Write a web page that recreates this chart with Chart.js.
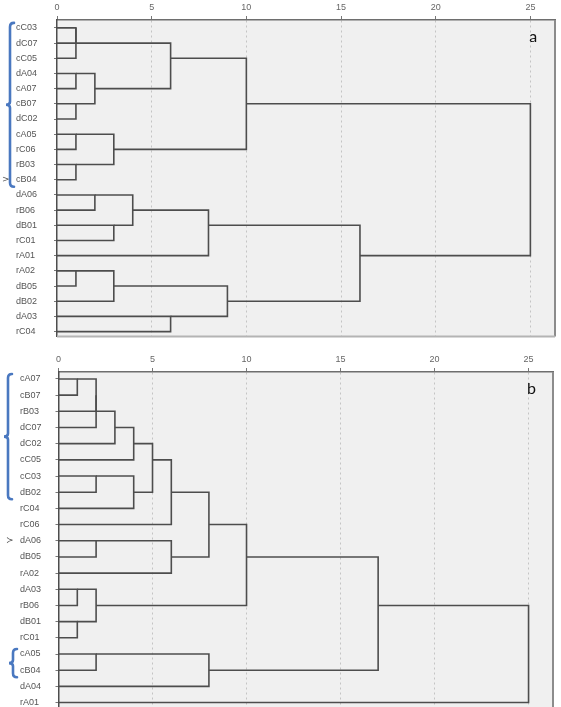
<!DOCTYPE html>
<html>
<head>
<meta charset="utf-8">
<script src="https://cdn.jsdelivr.net/npm/chart.js@4.4.0/dist/chart.umd.min.js"></script>
<style>
  html, body { margin: 0; padding: 0; background: #fff; width: 561px; height: 707px; overflow: hidden; }
  canvas { position: absolute; left: 0; }
  #chart-a { top: 0; }
  #chart-b { top: 352px; }
</style>
</head>
<body>
<canvas id="chart-a" width="561" height="345"></canvas>
<canvas id="chart-b" width="561" height="368"></canvas>
<script>
// rescaled distance ticks (top axis)
const xTicks = [0, 5, 10, 15, 20, 25];

// dendrogram a: leaf order, then merges (string = leaf, number = earlier merge)
const leavesA = ["cC03", "dC07", "cC05", "dA04", "cA07", "cB07", "dC02", "cA05", "rC06", "rB03", "cB04",
                 "dA06", "rB06", "dB01", "rC01", "rA01", "rA02", "dB05", "dB02", "dA03", "rC04"];
const leftA  = ["cC03", 0, "dA04", "cB07", 2, 1, "cA05", "rB03", 6, 5, "dA06", "dB01", 10, 12, "rA02", 14, "dA03", 15, 13, 9];
const rightA = ["dC07", "cC05", "cA07", "dC02", 3, 4, "rC06", "cB04", 7, 8, "rB06", "rC01", 11, "rA01", "dB05", "dB02", "rC04", 16, 17, 18];
const distA  = [1, 1, 1, 1, 2, 6, 1, 1, 3, 10, 2, 3, 4, 8, 1, 3, 6, 9, 16, 25];

// dendrogram b
const leavesB = ["cA07", "cB07", "rB03", "dC07", "dC02", "cC05", "cC03", "dB02", "rC04", "rC06", "dA06",
                 "dB05", "rA02", "dA03", "rB06", "dB01", "rC01", "cA05", "cB04", "dA04", "rA01"];
const leftB  = ["cA07", 0, 1, 2, 3, "cC03", 5, 4, 7, "dA06", 9, 8, "dA03", "dB01", 12, 11, "cA05", 16, 15, 18];
const rightB = ["cB07", "rB03", "dC07", "dC02", "cC05", "dB02", "rC04", 6, "rC06", "dB05", "rA02", 10, "rB06", "rC01", 13, 14, "cB04", "dA04", 17, "rA01"];
const distB  = [1, 2, 2, 3, 4, 2, 4, 5, 6, 2, 6, 8, 1, 1, 2, 10, 2, 8, 17, 25];

// blue brackets / marks beside the leaf labels
const bracketsA = [["cC03", "cB04"]];
const bracketsB = [["cA07", "dB02"], ["cA05", "cB04"]];

// turn merge list into polyline datasets (SPSS style: node sits on floor of mid row)
function buildDatasets(leaves, lefts, rights, dists) {
    const nodes = [];
    const pos = ref => typeof ref === "number" ? nodes[ref] : { row: leaves.indexOf(ref), dist: 0 };
    return lefts.map((l, i) => {
        const a = pos(l);
        const b = pos(rights[i]);
        const d = dists[i];
        nodes.push({ row: Math.floor((a.row + b.row) / 2), dist: d });
        return {
            data: [
                { x: a.dist, y: a.row },
                { x: d, y: a.row },
                { x: d, y: b.row },
                { x: b.dist, y: b.row }
            ],
            showLine: true,
            borderColor: "#4d4d4d",
            borderWidth: 1.6,
            pointRadius: 0,
            fill: false,
            tension: 0,
            borderJoinStyle: "miter"
        };
    });
}

const panelPlugin = {
    id: "panel",
    beforeDraw(chart) {
        const { ctx, chartArea: ca } = chart;
        ctx.save();
        ctx.fillStyle = "#f0f0f0";
        ctx.fillRect(ca.left, ca.top, ca.right - ca.left, ca.bottom - ca.top);
        ctx.restore();
    },
    afterDraw(chart, args, opts) {
        const { ctx, chartArea: ca, scales } = chart;
        ctx.save();
        // right and bottom frame
        ctx.strokeStyle = "#8c8c8c";
        ctx.lineWidth = 2;
        ctx.beginPath();
        ctx.moveTo(ca.right, ca.top);
        ctx.lineTo(ca.right, ca.bottom);
        ctx.stroke();
        ctx.strokeStyle = "#b4b4b4";
        ctx.beginPath();
        ctx.moveTo(ca.left, ca.bottom);
        ctx.lineTo(ca.right, ca.bottom);
        ctx.stroke();

        // panel letter
        ctx.fillStyle = "#111";
        ctx.font = "16px Lato, 'Open Sans', sans-serif";
        ctx.textAlign = "center";
        ctx.textBaseline = "middle";
        ctx.fillText(opts.letter, scales.x.getPixelForValue(25.15), ca.top + 17);

        // brackets
        ctx.strokeStyle = "#4a78c0";
        ctx.lineWidth = 2.6;
        ctx.lineCap = "round";
        opts.brackets.forEach((br, i) => {
            const x = opts.bracketX[i];
            const yTop = scales.y.getPixelForValue(opts.leaves.indexOf(br[0])) - 5;
            const yBot = scales.y.getPixelForValue(opts.leaves.indexOf(br[1])) + 7;
            const yMid = (yTop + yBot) / 2;
            ctx.beginPath();
            ctx.moveTo(x + 4, yTop);
            ctx.quadraticCurveTo(x, yTop, x, yTop + 4);
            ctx.lineTo(x, yMid - 3);
            ctx.quadraticCurveTo(x, yMid, x - 4, yMid);
            ctx.quadraticCurveTo(x, yMid, x, yMid + 3);
            ctx.lineTo(x, yBot - 4);
            ctx.quadraticCurveTo(x, yBot, x + 4, yBot);
            ctx.stroke();
        });

        // small arrow mark
        ctx.fillStyle = "#555";
        ctx.font = "9px 'DejaVu Sans'";
        ctx.textAlign = "left";
        ctx.fillText(opts.mark, opts.markX, scales.y.getPixelForValue(opts.markRow));
        ctx.restore();
    }
};

function makeDendrogram(id, leaves, lefts, rights, dists, cfg) {
    return new Chart(document.getElementById(id), {
        type: "scatter",
        data: { datasets: buildDatasets(leaves, lefts, rights, dists) },
        plugins: [panelPlugin],
        options: {
            responsive: false,
            animation: false,
            layout: { padding: cfg.padding },
            plugins: {
                legend: { display: false },
                tooltip: { enabled: false },
                panel: {
                    letter: cfg.letter,
                    leaves: leaves,
                    brackets: cfg.brackets,
                    bracketX: cfg.bracketX,
                    mark: cfg.mark,
                    markX: cfg.markX,
                    markRow: cfg.markRow
                }
            },
            scales: {
                x: {
                    type: "linear",
                    position: "top",
                    min: 0,
                    max: 26.3,
                    afterBuildTicks: axis => { axis.ticks = xTicks.map(v => ({ value: v })); },
                    afterFit: axis => { axis.height = 20; },
                    ticks: {
                        color: "#666",
                        padding: 3,
                        maxRotation: 0,
                        font: { family: "'Liberation Sans', Arial", size: 9 }
                    },
                    grid: {
                        color: ctx => (ctx.tick && ctx.tick.value === 0) ? "rgba(0,0,0,0)" : "#c4c4c4",
                        lineWidth: 1,
                        tickLength: 4,
                        tickColor: "#777"
                    },
                    border: { display: true, color: "#6e6e6e", width: 1.5, dash: [2, 3] }
                },
                y: {
                    type: "linear",
                    reverse: true,
                    min: cfg.yMin,
                    max: cfg.yMax,
                    afterBuildTicks: axis => { axis.ticks = leaves.map((_, i) => ({ value: i })); },
                    afterFit: axis => { axis.width = cfg.axisWidth; },
                    ticks: {
                        autoSkip: false,
                        crossAlign: "far",
                        color: "#555",
                        font: { family: "'Liberation Sans', Arial", size: 9 },
                        callback: v => leaves[v]
                    },
                    grid: { drawOnChartArea: false, drawTicks: true, tickLength: 3, tickColor: "#777" },
                    border: { display: true, color: "#4d4d4d", width: 1.5 }
                }
            }
        }
    });
}

makeDendrogram("chart-a", leavesA, leftA, rightA, distA, {
    padding: { left: 16, right: 6, top: 0, bottom: 7 },
    axisWidth: 41,
    yMin: -0.52,
    yMax: 20.33,
    letter: "a",
    brackets: bracketsA,
    bracketX: [10],
    mark: ">",
    markX: 2,
    markRow: 10
});

makeDendrogram("chart-b", leavesB, leftB, rightB, distB, {
    padding: { left: 20, right: 8, top: 0, bottom: 8 },
    axisWidth: 38.5,
    yMin: -0.43,
    yMax: 20.56,
    letter: "b",
    brackets: bracketsB,
    bracketX: [8, 13],
    mark: "≻",
    markX: 6,
    markRow: 10
});
</script>
</body>
</html>
